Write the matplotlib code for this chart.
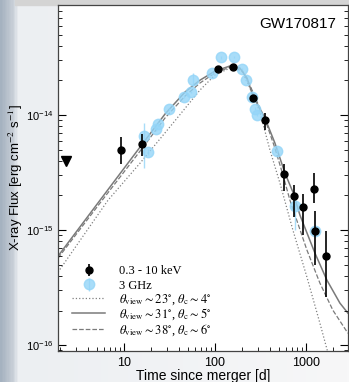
import numpy as np
import matplotlib
matplotlib.use('Agg')
import matplotlib.pyplot as plt
from matplotlib.patches import Rectangle
from matplotlib.ticker import FuncFormatter

# Fonts: sans for axes, Times-like for the legend
matplotlib.rc('font', family='Liberation Sans', size=9)
matplotlib.rcParams['mathtext.fontset'] = 'stix'

# X-ray (0.3 - 10 keV) detections, days / flux with lower & upper error ends
t_xray = [9.2, 15.6, 108, 158, 259, 354, 578, 738, 934, 1217, 1256, 1660]
f_xray = [4.97e-15, 5.6e-15, 2.49e-14, 2.6e-14, 1.40e-14, 9.05e-15,
          3.07e-15, 1.99e-15, 1.6e-15, 2.29e-15, 9.86e-16, 5.94e-16]
f_xray_lo = [3.73e-15, 4.4e-15, 2.38e-14, 2.49e-14, 1.32e-14, 7.41e-15,
             2.20e-15, 1.31e-15, 9.05e-16, 1.71e-15, 4.97e-16, 2.60e-16]
f_xray_hi = [6.4e-15, 6.8e-15, 2.6e-14, 2.72e-14, 1.48e-14, 1.04e-14,
             3.75e-15, 2.49e-15, 2.08e-15, 3.15e-15, 1.47e-15, 9.86e-16]

# early X-ray upper limit
t_ul = [2.3]
f_ul = [3.98e-15]

# 3 GHz radio, scaled to X-ray flux
t_radio = [16.6, 18.2, 22.2, 23.8, 31.5, 46.0, 54.5, 57.7, 92.7, 115.5,
           161.7, 198, 219, 257, 272, 289, 486, 757, 1256]
f_radio = [6.57e-15, 4.80e-15, 7.55e-15, 8.44e-15, 1.12e-14, 1.44e-14,
           1.585e-14, 2.01e-14, 2.31e-14, 3.17e-14, 3.21e-14, 2.51e-14,
           2.01e-14, 1.44e-14, 1.14e-14, 1.01e-14, 4.91e-15, 1.62e-15, 9.74e-16]
f_radio_lo = [3.5e-15, 4.5e-15, 7.3e-15, 8.2e-15, 1.09e-14, 1.40e-14,
              1.54e-14, 1.8e-14, 2.25e-14, 3.1e-14, 3.15e-14, 2.45e-14,
              1.96e-14, 1.40e-14, 1.11e-14, 0.98e-14, 4.7e-15, 1.0e-15, 9.4e-16]
f_radio_hi = [8.6e-15, 5.1e-15, 7.8e-15, 8.7e-15, 1.15e-14, 1.48e-14,
              1.63e-14, 2.3e-14, 2.37e-14, 3.25e-14, 3.28e-14, 2.57e-14,
              2.06e-14, 1.48e-14, 1.17e-14, 1.04e-14, 5.1e-15, 1.72e-15, 1.0e-15]

# structured jet models
t_m23 = [1.88, 6.67, 15.0, 34.6, 68.4, 100, 154, 198, 242, 312, 402, 518,
         719, 1026, 1425, 1702, 1980]
f_m23 = [4.31e-16, 1.82e-15, 3.82e-15, 8.52e-15, 1.65e-14, 2.23e-14,
         2.61e-14, 2.41e-14, 1.72e-14, 1.06e-14, 4.96e-15, 2.56e-15,
         1.0e-15, 3.90e-16, 1.55e-16, 9.23e-17, 6.07e-17]

t_m31 = [1.88, 5.45, 15.0, 28.2, 46.8, 68.4, 100, 146, 188, 225, 262, 354,
         456, 588, 719, 859, 1256, 1702, 2364, 2894]
f_m31 = [5.94e-16, 1.82e-15, 5.27e-15, 1.02e-14, 1.585e-14, 2.01e-14,
         2.41e-14, 2.67e-14, 2.56e-14, 2.10e-14, 1.46e-14, 9.42e-15,
         5.71e-15, 3.13e-15, 2.14e-15, 1.35e-15, 6.31e-16, 3.67e-16,
         2.32e-16, 1.90e-16]

t_m38 = [1.88, 5.45, 15.0, 28.2, 46.8, 68.4, 100, 146, 198, 242, 297, 354,
         456, 559, 667, 1026, 1425, 1980, 2894]
f_m38 = [5.71e-16, 1.72e-15, 4.86e-15, 9.42e-15, 1.46e-14, 1.90e-14,
         2.32e-14, 2.61e-14, 2.46e-14, 1.82e-14, 1.25e-14, 9.23e-15,
         5.16e-15, 3.01e-15, 1.82e-15, 6.70e-16, 3.46e-16, 2.01e-16, 1.27e-16]

fig = plt.figure(figsize=(3.49, 3.82), dpi=100, facecolor='#f6f7f8')

# faded picture strip on the far left and grey band on top
bgmap = matplotlib.colors.LinearSegmentedColormap.from_list(
    'bgc', [(0, '#a5b2c0'), (0.035, '#c9d0d8'), (0.05, '#eceff2'), (1, '#f7f7f8')])
grad = np.tile(np.linspace(0, 1, 349), (382, 1))
fig.figimage(bgmap(grad), xo=0, yo=0, zorder=-10)
fig.add_artist(Rectangle((15/349, 1 - 5/382), 1, 5/382, color='#d4d4d4',
                         transform=fig.transFigure, zorder=-5))

ax = fig.add_axes([58/349, 31/382, 290/349, 346/382])
ax.set_facecolor('white')

l23, = ax.plot(t_m23, f_m23, ':', color='#808080', lw=0.9, zorder=1)
l31, = ax.plot(t_m31, f_m31, '-', color='#7a7a7a', lw=1.1, zorder=1)
l38, = ax.plot(t_m38, f_m38, '--', color='#7a7a7a', lw=0.9, zorder=1)

f_radio_a = np.array(f_radio)
rerr = [f_radio_a - np.array(f_radio_lo), np.array(f_radio_hi) - f_radio_a]
hr = ax.errorbar(t_radio, f_radio, yerr=rerr, fmt='o', color='#94d5f8', ms=7.5,
                 elinewidth=1.0, alpha=0.8, capsize=0, zorder=2)

f_xray_a = np.array(f_xray)
xerr = [f_xray_a - np.array(f_xray_lo), np.array(f_xray_hi) - f_xray_a]
hx = ax.errorbar(t_xray, f_xray, yerr=xerr, fmt='o', color='black', ms=5,
                 elinewidth=1.2, capsize=0, zorder=3)

ax.plot(t_ul, f_ul, 'v', color='black', ms=7, zorder=3)

ax.set_xscale('log')
ax.set_yscale('log')
ax.set_xlim(1.88, 2900)
ax.set_ylim(8.9e-17, 9.05e-14)
ax.xaxis.set_major_formatter(FuncFormatter(lambda v, p: '%g' % v))

ax.tick_params(which='both', direction='in', right=True, top=False)
ax.tick_params(axis='x', labelsize=9, pad=4)
ax.tick_params(axis='y', labelsize=8)
ax.tick_params(which='major', length=6, width=0.8)
ax.tick_params(which='minor', length=3, width=0.6)
for s in ax.spines.values():
    s.set_color('#444444')
    s.set_linewidth(0.9)

ax.set_xlabel('Time since merger [d]', fontsize=10, labelpad=0)
ax.set_ylabel(r'X-ray Flux [erg cm$^{-2}$ s$^{-1}$]', fontsize=9.5, labelpad=0.5)
ax.text(0.96, 0.945, 'GW170817', transform=ax.transAxes, ha='right', va='center',
        fontsize=11)

lprop = {'family': 'Liberation Serif', 'size': 9}
leg1 = ax.legend([hx, hr], ['0.3 - 10 keV', '3 GHz'],
                 loc='upper left', bbox_to_anchor=(0.03, 0.262), frameon=False,
                 prop=lprop, handlelength=2.7, handletextpad=1.1,
                 labelspacing=0.2, borderaxespad=0)
ax.add_artist(leg1)
ax.legend([l23, l31, l38],
          [r'$\theta_{\rm view}\sim23^{\circ}$, $\theta_{\rm c}\sim4^{\circ}$',
           r'$\theta_{\rm view}\sim31^{\circ}$, $\theta_{\rm c}\sim5^{\circ}$',
           r'$\theta_{\rm view}\sim38^{\circ}$, $\theta_{\rm c}\sim6^{\circ}$'],
          loc='upper left', bbox_to_anchor=(0.03, 0.185), frameon=False,
          prop=lprop, handlelength=2.7, handletextpad=1.1,
          labelspacing=0.0, borderaxespad=0)

fig.savefig('out.png', dpi=100, facecolor=fig.get_facecolor())
